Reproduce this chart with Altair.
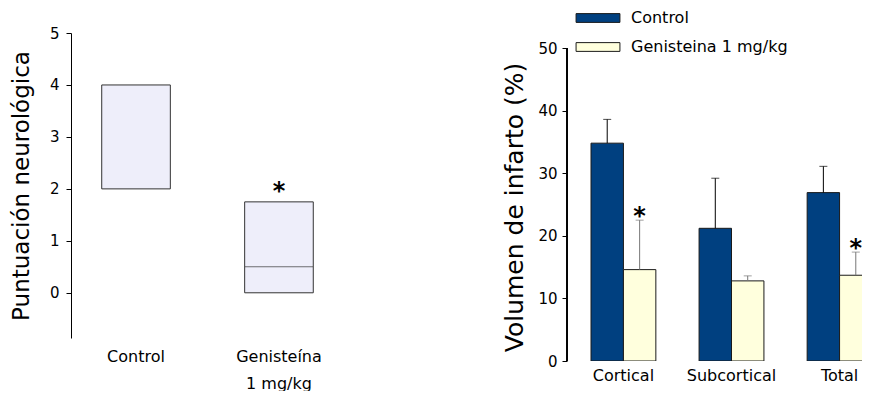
import altair as alt
import pandas as pd

FONT = "DejaVu Sans"

# ---- left panel: neurological score (boxes) ----
score_groups = ["Control", "Genisteína 1 mg/kg"]
score_q1 = [2.0, 0.0]
score_q3 = [4.0, 1.75]
score_median_group = ["Genisteína 1 mg/kg"]
score_median = [0.5]
score_star = ["", "*"]

# ---- right panel: infarct volume ----
regions = ["Cortical", "Subcortical", "Total"]
treatments = ["Control", "Genisteina 1 mg/kg"]
control_mean = [34.8, 21.2, 26.9]
control_err = [3.8, 8.0, 4.2]
gen_mean = [14.6, 12.8, 13.7]
gen_err = [7.9, 0.8, 3.7]
gen_star = ["*", "", "*"]

left_df = pd.DataFrame({"grupo": score_groups, "q1": score_q1, "q3": score_q3, "star": score_star})
med_df = pd.DataFrame({"grupo": score_median_group, "median": score_median})

rows = []
for i, r in enumerate(regions):
    rows.append({"region": r, "grupo": treatments[0], "value": control_mean[i],
                 "top": control_mean[i] + control_err[i], "star": ""})
    rows.append({"region": r, "grupo": treatments[1], "value": gen_mean[i],
                 "top": gen_mean[i] + gen_err[i], "star": gen_star[i]})
right_df = pd.DataFrame(rows)

# ----- left chart -----
lx = alt.X("grupo:N", sort=score_groups,
           scale=alt.Scale(paddingInner=0.52, paddingOuter=0.215),
           axis=alt.Axis(title=None, domain=False, ticks=False, labelAngle=0,
                         labelPadding=10, labelBaseline="top", labelFontSize=16,
                         labelLineHeight=27, labelFont=FONT, labelColor="black",
                         labelExpr="datum.value == 'Control' ? 'Control' : ['Genisteína', '1 mg/kg']"))
ly_scale = alt.Scale(domain=[-0.87, 5], nice=False, zero=False)
ly_axis = alt.Axis(title="Puntuación neurológica", values=[0, 1, 2, 3, 4, 5], grid=False,
                   tickSize=5, labelPadding=7, labelFontSize=15, labelFont=FONT,
                   titleFont=FONT, titleFontSize=23, titleFontWeight="normal",
                   titlePadding=16, domainColor="black", tickColor="black",
                   labelColor="black", titleColor="black")

boxes = alt.Chart(left_df).mark_bar(fill="#EEEEFA", stroke="#333333", strokeWidth=1).encode(
    x=lx,
    y=alt.Y("q1:Q", scale=ly_scale, axis=ly_axis),
    y2="q3:Q",
)
medians = alt.Chart(med_df).mark_tick(color="#333333", thickness=1, size=68).encode(
    x=alt.X("grupo:N", sort=score_groups),
    y="median:Q",
)
lstars = alt.Chart(left_df).mark_text(font=FONT, fontSize=24, fontWeight="bold",
                                      baseline="alphabetic", dy=-3, color="black").encode(
    x=alt.X("grupo:N", sort=score_groups),
    y="q3:Q",
    text="star:N",
)
left = alt.layer(boxes, medians, lstars).properties(width=273, height=305)

# ----- right chart -----
rx = alt.X("region:N", sort=regions,
           scale=alt.Scale(range=[24, 305], paddingInner=0.4, paddingOuter=0),
           axis=alt.Axis(title=None, domain=False, ticks=False, labelAngle=0,
                         labelPadding=6, labelBaseline="top", labelFontSize=16,
                         labelFont=FONT, labelColor="black"))
rxo = alt.XOffset("grupo:N", sort=treatments, scale=alt.Scale(paddingInner=0, paddingOuter=0))
ry_scale = alt.Scale(domain=[0, 52.4], nice=False)
ry_axis = alt.Axis(title="Volumen de infarto (%)", values=[0, 10, 20, 30, 40, 50], grid=False,
                   domain=False, tickSize=5, labelPadding=5, labelFontSize=15, labelFont=FONT,
                   titleFont=FONT, titleFontSize=25, titleFontWeight="normal",
                   titlePadding=10, titleY=174, tickColor="black",
                   labelColor="black", titleColor="black")

bars = alt.Chart(right_df).mark_bar(stroke="#1a1a1a", strokeWidth=1, clip=True).encode(
    x=rx,
    xOffset=rxo,
    y=alt.Y("value:Q", scale=ry_scale, axis=ry_axis),
    color=alt.Color("grupo:N", sort=treatments,
                    scale=alt.Scale(domain=treatments, range=["#004080", "#FFFFDD"]),
                    legend=alt.Legend(title=None, orient="none", legendX=23, legendY=-23,
                                      symbolType="M-5,-1 H5 V1 H-5 Z", symbolSize=77,
                                      symbolStrokeColor="#1a1a1a", symbolStrokeWidth=1,
                                      labelFont=FONT, labelFontSize=16, labelColor="black",
                                      labelOffset=25, rowPadding=13, padding=0)),
)
errs = alt.Chart(right_df).mark_rule(strokeWidth=1, clip=True).encode(
    x=alt.X("region:N", sort=regions),
    xOffset=rxo,
    y="value:Q",
    y2="top:Q",
    color=alt.condition(alt.datum.grupo == "Control", alt.value("black"), alt.value("#777777")),
)
caps = alt.Chart(right_df).mark_tick(thickness=1, size=8, clip=True).encode(
    x=alt.X("region:N", sort=regions),
    xOffset=rxo,
    y="top:Q",
    color=alt.condition(alt.datum.grupo == "Control", alt.value("black"), alt.value("#777777")),
)
rstars = alt.Chart(right_df).mark_text(font=FONT, fontSize=24, fontWeight="bold",
                                       baseline="alphabetic", dy=4, color="black",
                                       clip=True).encode(
    x=alt.X("region:N", sort=regions),
    xOffset=rxo,
    y="top:Q",
    text="star:N",
)
axis_line = alt.Chart(right_df).mark_rule(color="black", strokeWidth=1).encode(
    x=alt.value(0),
    y=alt.datum(0),
    y2=alt.datum(50),
)
right = alt.layer(bars, errs, caps, rstars, axis_line).properties(width=295, height=328)

chart = alt.hconcat(left, right, spacing=158).resolve_legend(color="independent").properties(
    padding={"left": 2, "top": 2, "right": 0, "bottom": 0}
).configure_view(stroke=None).configure_axis(domainColor="black")

chart.save("out.html", embed_options={"renderer": "svg", "actions": False})
